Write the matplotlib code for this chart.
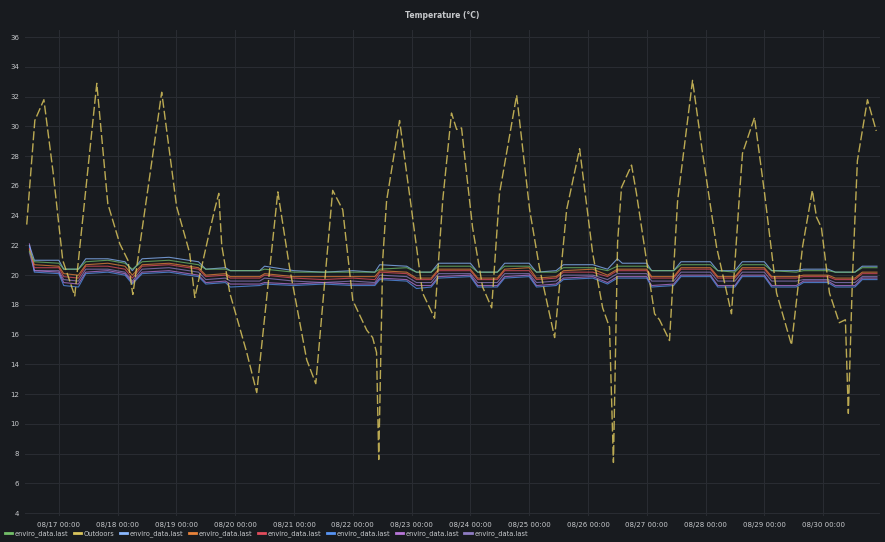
import pandas as pd
import numpy as np
import matplotlib
matplotlib.use('Agg')
import matplotlib.pyplot as plt
import matplotlib.dates as mdates
from matplotlib.lines import Line2D

# hours relative to 08/17 00:00
outdoor_hours = [-13.1, -9.8, -6.1, -2.4, 1.6, 6.5, 15.5, 20.0, 24.9, 28.2, 30.2, 42.0, 48.1, 53.4,
                 55.5, 60.8, 63.6, 65.3, 66.5, 69.8, 76.7, 80.8, 89.4, 94.2, 101.2, 104.9, 111.8,
                 115.9, 120.0, 125.7, 128.1, 129.7, 130.6, 132.2, 133.8, 139.1, 144.0, 148.5, 153.4,
                 156.7, 160.3, 162.4, 164.4, 168.9, 173.0, 176.7, 179.9, 186.9, 192.2, 196.2, 202.4,
                 207.3, 212.6, 217.9, 222.0, 224.8, 226.4, 228.1, 229.7, 233.8, 235.8, 239.9, 243.2,
                 245.2, 249.3, 252.6, 258.7, 262.8, 268.5, 274.6, 277.9, 279.1, 284.0, 288.1, 293.0,
                 299.1, 303.6, 307.6, 309.3, 311.3, 314.6, 318.6, 321.1, 322.3, 324.0, 326.0, 330.1,
                 333.7]
outdoors = [23.4, 30.4, 31.8, 27.0, 21.0, 18.6, 32.9, 24.8, 22.1, 21.0, 18.7, 32.3, 24.6, 21.5,
            18.5, 22.4, 24.4, 25.5, 22.0, 18.8, 14.8, 12.1, 25.6, 20.5, 14.3, 12.7, 25.7,
            24.4, 18.3, 16.3, 15.8, 14.8, 7.6, 21.0, 25.0, 30.4, 24.4, 18.8, 17.1,
            25.0, 30.9, 29.8, 29.9, 23.2, 19.2, 17.8, 25.5, 32.1, 24.4, 20.5, 15.8,
            24.4, 28.5, 21.5, 17.8, 16.5, 7.4, 22.2, 25.9, 27.4, 25.5, 21.0, 17.4,
            17.0, 15.6, 25.0, 33.1, 28.2, 21.9, 17.4, 25.5, 28.2, 30.6, 25.5, 18.8,
            15.3, 21.9, 25.7, 23.9, 23.2, 18.8, 16.8, 17.0, 10.7, 19.9, 27.7, 31.8,
            29.7]

indoor_hours = [-12, -10, 0, 2, 8, 11, 20, 27, 30, 34, 45, 57, 60, 68, 70, 82, 84, 96, 108, 120,
                129, 131, 142, 146, 152, 155, 168, 171, 179, 182, 192, 195, 203, 206, 218, 224,
                228, 230, 240, 242, 251, 254, 266, 269, 276, 279, 288, 291, 301, 304, 314, 317,
                325, 328, 334]

green = [21.6, 20.9, 20.8, 20.4, 20.4, 20.9, 21.0, 20.8, 20.4, 20.9, 21.0, 20.7, 20.4, 20.4, 20.3,
         20.3, 20.4, 20.2, 20.2, 20.2, 20.2, 20.4, 20.5, 20.2, 20.2, 20.6, 20.6, 20.2, 20.2, 20.6,
         20.6, 20.2, 20.2, 20.5, 20.5, 20.3, 20.6, 20.6, 20.6, 20.3, 20.3, 20.7, 20.7, 20.3, 20.2,
         20.7, 20.7, 20.3, 20.2, 20.3, 20.3, 20.2, 20.2, 20.5, 20.5]
light_blue = [22.0, 21.0, 21.0, 20.4, 20.4, 21.1, 21.1, 20.9, 20.3, 21.1, 21.2, 20.9, 20.4, 20.5, 20.3,
              20.3, 20.6, 20.3, 20.2, 20.3, 20.2, 20.7, 20.6, 20.2, 20.2, 20.8, 20.8, 20.2, 20.2, 20.8,
              20.8, 20.2, 20.3, 20.7, 20.7, 20.4, 21.1, 20.8, 20.8, 20.3, 20.3, 20.9, 20.9, 20.3, 20.3,
              20.9, 20.9, 20.3, 20.3, 20.4, 20.4, 20.2, 20.2, 20.6, 20.6]
orange = [21.7, 20.7, 20.6, 20.1, 20.0, 20.7, 20.8, 20.6, 20.0, 20.7, 20.8, 20.5, 20.0, 20.1, 19.9,
          19.9, 20.1, 19.9, 19.9, 19.9, 19.9, 20.3, 20.2, 19.8, 19.8, 20.4, 20.4, 19.8, 19.8, 20.4,
          20.5, 19.8, 19.9, 20.3, 20.4, 20.0, 20.4, 20.4, 20.4, 19.9, 19.9, 20.5, 20.5, 19.9, 19.9,
          20.5, 20.5, 19.9, 19.9, 20.0, 20.0, 19.8, 19.8, 20.2, 20.2]
red = [21.8, 20.5, 20.5, 19.9, 19.8, 20.6, 20.6, 20.4, 19.8, 20.6, 20.7, 20.4, 19.9, 20.0, 19.8,
       19.8, 20.0, 19.8, 19.7, 19.8, 19.7, 20.2, 20.1, 19.7, 19.7, 20.3, 20.3, 19.7, 19.7, 20.3,
       20.3, 19.7, 19.8, 20.2, 20.2, 19.9, 20.3, 20.3, 20.3, 19.8, 19.8, 20.4, 20.4, 19.8, 19.8,
       20.4, 20.4, 19.8, 19.8, 19.9, 19.9, 19.7, 19.7, 20.1, 20.1]
blue = [21.9, 20.2, 20.1, 19.3, 19.2, 20.1, 20.2, 20.0, 19.4, 20.1, 20.2, 19.9, 19.4, 19.5, 19.2,
        19.3, 19.4, 19.3, 19.4, 19.3, 19.3, 19.7, 19.6, 19.1, 19.2, 19.8, 19.9, 19.2, 19.2, 19.8,
        19.9, 19.2, 19.3, 19.7, 19.8, 19.4, 19.8, 19.8, 19.8, 19.2, 19.3, 19.9, 19.9, 19.2, 19.2,
        19.9, 19.9, 19.2, 19.2, 19.5, 19.5, 19.2, 19.2, 19.7, 19.7]
purple = [22.1, 20.3, 20.2, 19.5, 19.4, 20.2, 20.3, 20.1, 19.5, 20.2, 20.3, 20.0, 19.5, 19.6, 19.4,
          19.4, 19.5, 19.4, 19.5, 19.4, 19.4, 19.8, 19.7, 19.3, 19.3, 19.9, 20.0, 19.3, 19.3, 19.9,
          20.0, 19.3, 19.4, 19.8, 19.9, 19.5, 19.9, 19.9, 19.9, 19.3, 19.4, 20.0, 20.0, 19.3, 19.3,
          20.0, 20.0, 19.3, 19.3, 19.6, 19.6, 19.3, 19.3, 19.8, 19.8]
violet = [21.5, 20.3, 20.3, 19.7, 19.6, 20.4, 20.4, 20.2, 19.6, 20.4, 20.5, 20.2, 19.7, 19.8, 19.6,
          19.6, 19.8, 19.6, 19.5, 19.6, 19.5, 20.0, 19.9, 19.5, 19.5, 20.1, 20.1, 19.5, 19.5, 20.1,
          20.1, 19.5, 19.6, 20.0, 20.0, 19.7, 20.1, 20.1, 20.1, 19.6, 19.6, 20.2, 20.2, 19.6, 19.6,
          20.2, 20.2, 19.6, 19.6, 19.7, 19.7, 19.5, 19.5, 19.9, 19.9]

legend_labels = ['enviro_data.last', 'Outdoors', 'enviro_data.last', 'enviro_data.last',
                 'enviro_data.last', 'enviro_data.last', 'enviro_data.last', 'enviro_data.last']
colors = ['#73BF69', '#D9C45C', '#8AB8FF', '#E8833A', '#E24D5C', '#5794F2', '#B877D9', '#8E7CC3']

base = pd.Timestamp('2023-08-17 00:00')
t_out = base + pd.to_timedelta(outdoor_hours, unit='h')
t_in = base + pd.to_timedelta(indoor_hours, unit='h')

bg = '#181b1f'
txt = '#c7c9cc'

fig = plt.figure(figsize=(8.85, 5.42), dpi=100, facecolor=bg)
ax = fig.add_axes([0.028, 0.048, 0.966, 0.897], facecolor=bg)

indoor = {'green': green, 'light_blue': light_blue, 'orange': orange, 'red': red,
          'blue': blue, 'purple': purple, 'violet': violet}
# draw lower ones first so top lines sit above
for key, c in zip(['violet', 'purple', 'blue', 'red', 'orange', 'light_blue', 'green'],
                  [colors[7], colors[6], colors[5], colors[4], colors[3], colors[2], colors[0]]):
    ax.plot(t_in, indoor[key], color=c, lw=0.8, alpha=0.75)

ax.plot(t_out, outdoors, color=colors[1], lw=1.0, alpha=0.85, dashes=(6.5, 2.2))

ax.set_ylim(3.8, 36.5)
ax.set_xlim(base - pd.Timedelta(hours=13.9), base + pd.Timedelta(hours=335.1))
ax.set_yticks(np.arange(4, 37, 2))
ax.xaxis.set_major_locator(mdates.DayLocator())
ax.xaxis.set_major_formatter(mdates.DateFormatter('%m/%d %H:%M'))
ax.tick_params(colors=txt, labelsize=5, length=0, pad=4)
for s in ax.spines.values():
    s.set_visible(False)
ax.grid(True, color='#2a2d33', lw=0.7)
ax.set_axisbelow(True)

fig.text(0.5, 0.972, 'Temperature (°C)', color=txt, fontsize=5.5, ha='center', va='center',
         fontweight='bold')

handles = [Line2D([0], [0], color=c, lw=2) for c in colors]
fig.legend(handles, legend_labels, loc='lower left', bbox_to_anchor=(0.0, 0.0), ncol=8,
           frameon=False, fontsize=4.8, labelcolor=txt, handlelength=1.1, handletextpad=0.4,
           columnspacing=0.8, borderaxespad=0.3)

fig.savefig('out.png', dpi=100, facecolor=bg)
